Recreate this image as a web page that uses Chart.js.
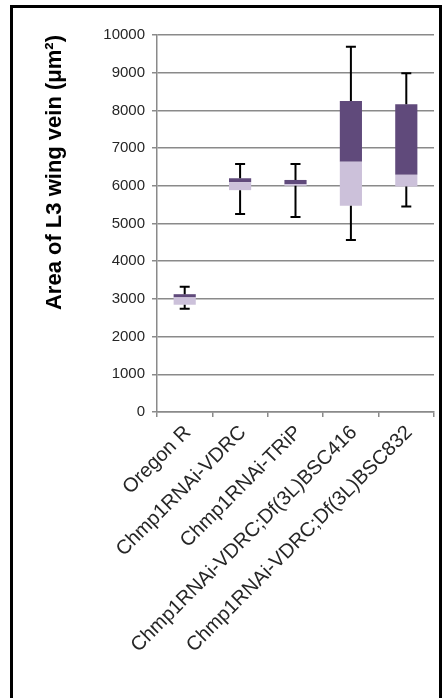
<!DOCTYPE html>
<html>
<head>
<meta charset="utf-8">
<script src="https://cdn.jsdelivr.net/npm/chart.js@4/dist/chart.umd.min.js"></script>
<style>
  html, body { margin: 0; padding: 0; background: #ffffff; }
  body { width: 444px; height: 698px; overflow: hidden; position: relative; }
  #frame {
    position: absolute; left: 10px; top: 5px; width: 426px; height: 800px;
    border: 3px solid #000; pointer-events: none;
  }
  #chart { position: absolute; left: 0; top: 0; }
</style>
</head>
<body>
<canvas id="chart" width="444" height="698"></canvas>
<div id="frame"></div>
<script>
// Genotypes along the x axis
const categories = [
  'Oregon R',
  'Chmp1RNAi-VDRC',
  'Chmp1RNAi-TRiP',
  'Chmp1RNAi-VDRC;Df(3L)BSC416',
  'Chmp1RNAi-VDRC;Df(3L)BSC832'
];

// Box-plot statistics of L3 vein area (µm²)
const minima         = [2740, 5250, 5175, 4565, 5450];
const lowerQuartiles = [2845, 5885, 6000, 5470, 5980];
const medians        = [3040, 6095, 6045, 6640, 6290];
const upperQuartiles = [3125, 6200, 6155, 8250, 8165];
const maxima         = [3325, 6580, 6580, 9690, 8985];

// Value axis
const yMin = 0;
const yMax = 10000;
const yStep = 1000;
const yTitle = 'Area of L3 wing vein (μm²)';

// Stacked segments: hidden base up to Q1, light Q1→median, dark median→Q3
const baseSegment  = lowerQuartiles.slice();
const lowerSegment = medians.map((m, i) => m - lowerQuartiles[i]);
const upperSegment = upperQuartiles.map((q, i) => q - medians[i]);

const GRID = '#8a8a8a';
const TEXT = '#262626';
const FONT = '"Liberation Sans", Arial, sans-serif';

// Whiskers with end caps, from the quartiles out to min / max
const whiskerPlugin = {
  id: 'whiskers',
  afterDatasetsDraw(chart) {
    const { ctx, scales: { x, y } } = chart;
    ctx.save();
    ctx.strokeStyle = '#000';
    ctx.lineWidth = 2;
    const cap = 5;
    categories.forEach((_, i) => {
      const px = x.getPixelForValue(i);
      const pairs = [[upperQuartiles[i], maxima[i]], [lowerQuartiles[i], minima[i]]];
      pairs.forEach(([from, to]) => {
        const y0 = y.getPixelForValue(from);
        const y1 = y.getPixelForValue(to);
        ctx.beginPath();
        ctx.moveTo(px, y0);
        ctx.lineTo(px, y1);
        ctx.moveTo(px - cap, y1);
        ctx.lineTo(px + cap, y1);
        ctx.stroke();
      });
    });
    ctx.restore();
  }
};

new Chart(document.getElementById('chart'), {
  type: 'bar',
  data: {
    labels: categories,
    datasets: [
      { label: 'base', data: baseSegment, backgroundColor: 'rgba(0,0,0,0)' },
      { label: 'Q1–median', data: lowerSegment, backgroundColor: '#ccc1da' },
      { label: 'median–Q3', data: upperSegment, backgroundColor: '#604a7b' }
    ]
  },
  options: {
    responsive: false,
    devicePixelRatio: 1,
    animation: false,
    events: [],
    categoryPercentage: 1,
    barPercentage: 0.4,
    layout: { padding: { top: 35, right: 10, left: 0, bottom: 0 } },
    plugins: {
      legend: { display: false },
      tooltip: { enabled: false },
      title: { display: false }
    },
    scales: {
      x: {
        stacked: true,
        offset: true,
        grid: {
          offset: true,
          drawOnChartArea: false,
          drawTicks: true,
          tickLength: 5,
          color: GRID,
          lineWidth: 1.5
        },
        border: { color: GRID, width: 1.5 },
        ticks: {
          autoSkip: false,
          minRotation: 45,
          maxRotation: 45,
          padding: 4,
          labelOffset: 3,
          color: TEXT,
          font: { family: FONT, size: 20 }
        },
        afterFit(scale) { scale.height = 286; }
      },
      y: {
        stacked: true,
        min: yMin,
        max: yMax,
        grid: {
          color: GRID,
          lineWidth: 1.5,
          drawTicks: true,
          tickLength: 5
        },
        border: { color: GRID, width: 1.5 },
        ticks: {
          stepSize: yStep,
          padding: 7,
          color: TEXT,
          font: { family: FONT, size: 15 },
          callback: (value) => String(value)
        },
        title: {
          display: true,
          text: yTitle,
          align: 'end',
          color: '#000',
          padding: { top: 42, bottom: 0 },
          font: { family: FONT, size: 22, weight: 'bold' }
        },
        afterFit(scale) { scale.width = 157; }
      }
    }
  },
  plugins: [whiskerPlugin]
});
</script>
</body>
</html>
